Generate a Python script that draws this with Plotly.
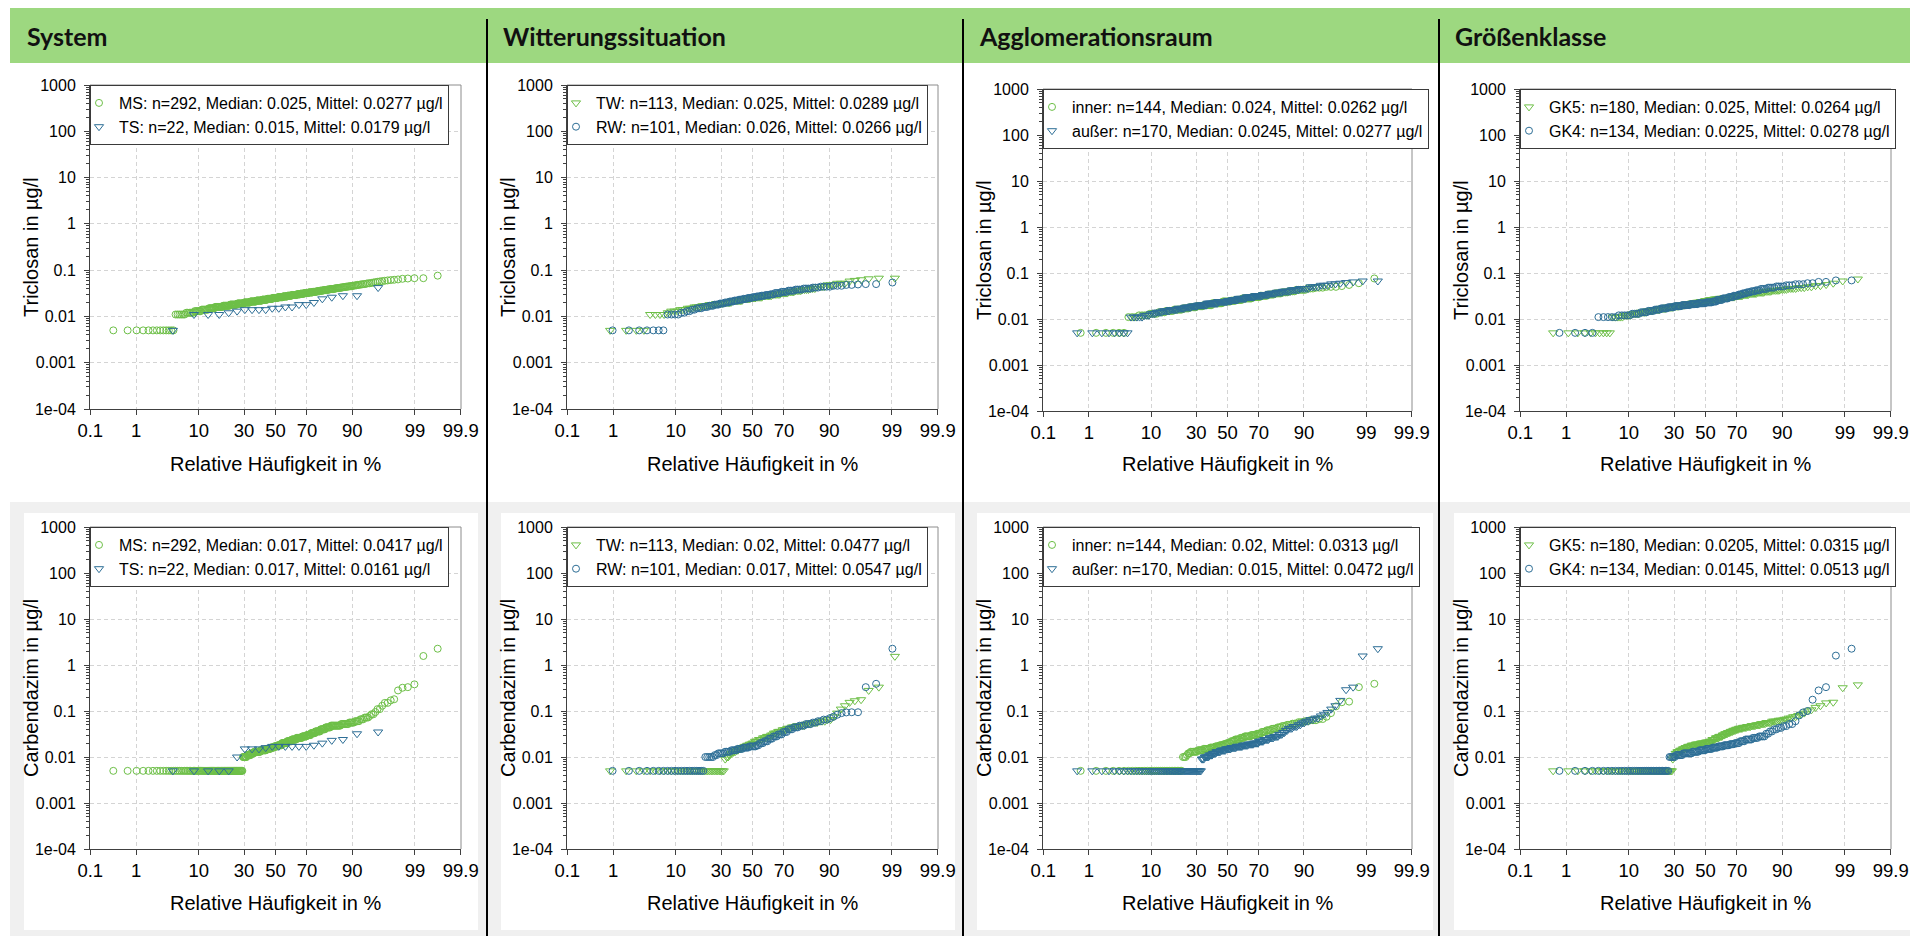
from statistics import NormalDist
import plotly.graph_objects as go

W, H = 1910, 936
GREEN = "#6dbf47"
BLUE = "#2d6e96"
FONT = "Liberation Sans"

# ---------------------------------------------------------------------------
# Measured concentrations (µg/l), sorted, written as value runs with counts
# ---------------------------------------------------------------------------
# Triclosan
TRI_MS_VAL = [0.005, 0.011, 0.012, 0.013, 0.014, 0.015, 0.016, 0.017, 0.018, 0.019, 0.020,
              0.021, 0.022, 0.023, 0.024, 0.025, 0.026, 0.027, 0.028, 0.029, 0.030,
              0.031, 0.032, 0.033, 0.034, 0.035, 0.036, 0.037, 0.038, 0.039, 0.040,
              0.041, 0.042, 0.043, 0.044, 0.045, 0.046, 0.047, 0.048, 0.049, 0.050,
              0.051, 0.052, 0.053, 0.054, 0.055, 0.056, 0.057, 0.058, 0.059,
              0.060, 0.061, 0.062, 0.063, 0.065, 0.066, 0.067, 0.076]
TRI_MS_CNT = [13, 6, 6, 6, 7, 7, 10, 10, 11, 11, 11,
              11, 11, 10, 10, 10, 10, 9, 8, 9, 7,
              7, 7, 7, 6, 5, 5, 5, 4, 5, 3,
              4, 3, 3, 3, 3, 2, 2, 2, 2, 2,
              1, 2, 1, 1, 1, 1, 1, 1, 1,
              1, 1, 1, 1, 1, 1, 2, 1]
TRI_TS_VAL = [0.005, 0.011, 0.012, 0.013, 0.014, 0.015, 0.016, 0.018, 0.020, 0.024, 0.026, 0.028, 0.042]
TRI_TS_CNT = [1, 3, 1, 1, 4, 2, 2, 2, 1, 1, 1, 2, 1]

TRI_TW_VAL = [0.005, 0.011, 0.012, 0.013, 0.014, 0.015, 0.016, 0.017, 0.018, 0.019, 0.020,
              0.022, 0.024, 0.025, 0.026, 0.028, 0.030, 0.032, 0.034, 0.036, 0.038, 0.040,
              0.044, 0.048, 0.052, 0.058, 0.060, 0.062, 0.065, 0.067]
TRI_TW_CNT = [4, 4, 1, 3, 3, 3, 4, 4, 4, 5, 6,
              8, 6, 4, 5, 7, 6, 5, 4, 4, 4, 3,
              4, 3, 3, 1, 1, 1, 1, 2]
TRI_RW_VAL = [0.005, 0.011, 0.012, 0.013, 0.014, 0.015, 0.016, 0.017, 0.018, 0.019, 0.020,
              0.021, 0.022, 0.023, 0.024, 0.025, 0.026, 0.027, 0.028, 0.029, 0.030,
              0.032, 0.034, 0.036, 0.038, 0.040, 0.042, 0.044, 0.046, 0.048, 0.049, 0.050, 0.054]
TRI_RW_CNT = [7, 4, 2, 2, 2, 3, 3, 3, 3, 3, 3,
              3, 3, 3, 3, 3, 3, 3, 3, 3, 3,
              4, 4, 4, 4, 4, 3, 4, 3, 2, 1, 2, 1]

TRI_INNER_VAL = [0.005, 0.011, 0.012, 0.013, 0.014, 0.015, 0.016, 0.017, 0.018, 0.019, 0.020,
                 0.022, 0.024, 0.025, 0.026, 0.028, 0.030, 0.032, 0.034, 0.036, 0.038, 0.040,
                 0.043, 0.046, 0.048, 0.050, 0.052, 0.055, 0.060, 0.076]
TRI_INNER_CNT = [6, 3, 4, 4, 4, 5, 6, 5, 6, 6, 8,
                 10, 8, 5, 6, 9, 7, 6, 5, 5, 4, 4,
                 5, 3, 3, 3, 1, 1, 1, 1]
TRI_AUSSER_VAL = [0.005, 0.011, 0.012, 0.013, 0.014, 0.015, 0.016, 0.017, 0.018, 0.019, 0.020,
                  0.022, 0.024, 0.025, 0.026, 0.028, 0.030, 0.032, 0.034, 0.036, 0.038, 0.040,
                  0.043, 0.046, 0.050, 0.054, 0.058, 0.060, 0.062, 0.064, 0.067]
TRI_AUSSER_CNT = [8, 5, 3, 3, 4, 5, 6, 6, 6, 6, 10,
                  12, 11, 5, 7, 9, 9, 8, 6, 6, 5, 6,
                  5, 5, 4, 3, 2, 1, 1, 1, 2]

TRI_GK5_VAL = [0.005, 0.011, 0.012, 0.013, 0.014, 0.015, 0.016, 0.017, 0.018, 0.019, 0.020,
               0.021, 0.022, 0.023, 0.024, 0.025, 0.026, 0.027, 0.028, 0.029, 0.030,
               0.032, 0.034, 0.036, 0.038, 0.040, 0.042, 0.044, 0.046, 0.048, 0.050,
               0.053, 0.056, 0.060, 0.067, 0.074]
TRI_GK5_CNT = [10, 5, 4, 5, 5, 5, 6, 6, 7, 6, 7,
               7, 6, 5, 5, 5, 6, 6, 6, 6, 6,
               8, 6, 7, 6, 5, 5, 4, 4, 3, 2,
               2, 1, 1, 1, 1]
TRI_GK4_VAL = [0.005, 0.011, 0.012, 0.013, 0.014, 0.015, 0.016, 0.017, 0.018, 0.019, 0.020,
               0.021, 0.022, 0.023, 0.024, 0.026, 0.028, 0.030, 0.032, 0.034, 0.036,
               0.038, 0.040, 0.042, 0.045, 0.048, 0.051, 0.054, 0.057, 0.060, 0.064, 0.069]
TRI_GK4_CNT = [4, 5, 5, 4, 4, 4, 4, 5, 5, 6, 7,
               7, 7, 6, 4, 5, 5, 4, 4, 3, 3,
               3, 3, 3, 4, 4, 4, 3, 3, 2, 2, 2]

# Carbendazim
CAR_MS_VAL = [0.005, 0.010, 0.011, 0.012, 0.013, 0.014, 0.015, 0.016, 0.017, 0.018,
              0.020, 0.022, 0.024, 0.026, 0.028, 0.030, 0.033, 0.036, 0.040, 0.044,
              0.048, 0.052, 0.056, 0.060, 0.066, 0.072, 0.078, 0.085, 0.095, 0.11,
              0.13, 0.15, 0.17, 0.18, 0.28, 0.32, 0.33, 0.38, 1.57, 2.26]
CAR_MS_CNT = [85, 7, 7, 6, 12, 11, 8, 7, 7, 8,
              10, 9, 9, 10, 8, 7, 7, 8, 7, 7,
              12, 8, 5, 4, 3, 3, 1, 2, 1, 2,
              1, 2, 1, 1, 1, 1, 1, 1, 1, 1]
CAR_TS_VAL = [0.005, 0.010, 0.015, 0.016, 0.017, 0.018, 0.020, 0.023, 0.024, 0.032, 0.035]
CAR_TS_CNT = [5, 1, 3, 1, 6, 1, 1, 1, 1, 1, 1]

CAR_TW_VAL = [0.005, 0.009, 0.010, 0.011, 0.012, 0.013, 0.014, 0.015, 0.016, 0.017, 0.018,
              0.019, 0.020, 0.022, 0.024, 0.026, 0.028, 0.030, 0.033, 0.036, 0.039,
              0.042, 0.045, 0.048, 0.052, 0.056, 0.060, 0.065, 0.075, 0.090, 0.11,
              0.13, 0.154, 0.167, 0.176, 0.28, 0.33, 1.54]
CAR_TW_CNT = [36, 1, 2, 1, 2, 2, 2, 2, 2, 2, 2,
              2, 2, 3, 3, 3, 3, 2, 3, 3, 3,
              3, 3, 5, 3, 3, 3, 2, 1, 1, 1,
              1, 1, 1, 1, 1, 1, 1]
CAR_RW_VAL = [0.005, 0.010, 0.011, 0.012, 0.013, 0.014, 0.015, 0.016, 0.017, 0.018,
              0.020, 0.022, 0.025, 0.028, 0.031, 0.035, 0.040, 0.044, 0.048, 0.052,
              0.056, 0.060, 0.065, 0.070, 0.075, 0.083, 0.090, 0.093, 0.094, 0.33,
              0.39, 2.26]
CAR_RW_CNT = [21, 5, 2, 4, 4, 4, 4, 4, 5, 2,
              3, 3, 3, 3, 3, 3, 3, 3, 3, 3,
              2, 2, 2, 1, 1, 1, 1, 1, 2, 1,
              1, 1]

CAR_INNER_VAL = [0.005, 0.010, 0.011, 0.012, 0.013, 0.014, 0.015, 0.016, 0.017, 0.018,
                 0.019, 0.020, 0.022, 0.024, 0.026, 0.028, 0.030, 0.032, 0.035, 0.038,
                 0.041, 0.044, 0.047, 0.050, 0.053, 0.057, 0.060, 0.063, 0.067, 0.075,
                 0.090, 0.126, 0.155, 0.16, 0.33, 0.39]
CAR_INNER_CNT = [32, 3, 1, 2, 6, 5, 6, 5, 4, 4,
                 3, 4, 4, 5, 4, 6, 5, 4, 4, 4,
                 4, 3, 3, 3, 3, 3, 2, 3, 2, 1,
                 1, 1, 1, 1, 1, 1]
CAR_AUSSER_VAL = [0.005, 0.009, 0.010, 0.011, 0.012, 0.013, 0.014, 0.015, 0.016, 0.017,
                  0.018, 0.019, 0.020, 0.022, 0.024, 0.026, 0.028, 0.031, 0.034, 0.038,
                  0.042, 0.046, 0.050, 0.055, 0.060, 0.065, 0.070, 0.078, 0.085, 0.093,
                  0.11, 0.13, 0.17, 0.29, 0.33, 1.57, 2.26]
CAR_AUSSER_CNT = [56, 3, 5, 4, 4, 5, 6, 6, 6, 7,
                  6, 6, 5, 5, 5, 4, 4, 3, 2, 2,
                  3, 3, 2, 2, 2, 2, 2, 1, 1, 1,
                  1, 1, 1, 1, 1, 1, 1]

CAR_GK5_VAL = [0.005, 0.009, 0.010, 0.012, 0.013, 0.014, 0.015, 0.016, 0.017, 0.018,
               0.019, 0.020, 0.021, 0.022, 0.024, 0.026, 0.028, 0.030, 0.032, 0.034,
               0.036, 0.038, 0.040, 0.042, 0.044, 0.046, 0.048, 0.050, 0.053, 0.056,
               0.060, 0.063, 0.066, 0.070, 0.075, 0.080, 0.085, 0.090, 0.100, 0.106,
               0.12, 0.13, 0.15, 0.155, 0.32, 0.37]
CAR_GK5_CNT = [52, 1, 2, 2, 3, 3, 3, 3, 4, 5,
               6, 6, 5, 3, 4, 4, 4, 3, 3, 3,
               3, 3, 3, 4, 4, 4, 4, 4, 4, 4,
               4, 3, 2, 2, 2, 1, 1, 1, 1, 1,
               1, 1, 1, 1, 1, 1]
CAR_GK4_VAL = [0.005, 0.010, 0.011, 0.012, 0.013, 0.014, 0.015, 0.016, 0.017, 0.018,
               0.019, 0.020, 0.022, 0.024, 0.026, 0.028, 0.032, 0.036, 0.040, 0.043,
               0.047, 0.052, 0.060, 0.080, 0.093, 0.10, 0.176, 0.28, 0.33, 1.6, 2.26]
CAR_GK4_CNT = [36, 5, 6, 8, 6, 6, 6, 5, 5, 5,
               4, 4, 4, 5, 4, 4, 2, 2, 2, 2,
               2, 2, 1, 1, 1, 1, 1, 1, 1, 1, 1]

# Column headers, axis texts and ticks
HEADERS = ["System", "Witterungssituation", "Agglomerationsraum", "Größenklasse"]
SUBSTANCES = ["Triclosan in µg/l", "Carbendazim in µg/l"]
X_TITLE = "Relative Häufigkeit in %"
X_TICK_PCT = [0.1, 1, 10, 30, 50, 70, 90, 99, 99.9]
X_TICK_TEXT = ["0.1", "1", "10", "30", "50", "70", "90", "99", "99.9"]
Y_TICK_VALS = [1e-4, 1e-3, 1e-2, 1e-1, 1, 10, 100, 1000]
Y_TICK_TEXT = ["1e-04", "0.001", "0.01", "0.1", "1", "10", "100", "1000"]

CIRCLE = ("circle-open", 7)
TRIANGLE = ("triangle-down-open", 8)

# (row, col, [(label, values, counts, marker, colour), ...])
PANELS = [
    (0, 0, [("MS: n=292, Median: 0.025, Mittel: 0.0277 µg/l", TRI_MS_VAL, TRI_MS_CNT, CIRCLE, GREEN),
            ("TS: n=22, Median: 0.015, Mittel: 0.0179 µg/l", TRI_TS_VAL, TRI_TS_CNT, TRIANGLE, BLUE)]),
    (0, 1, [("TW: n=113, Median: 0.025, Mittel: 0.0289 µg/l", TRI_TW_VAL, TRI_TW_CNT, TRIANGLE, GREEN),
            ("RW: n=101, Median: 0.026, Mittel: 0.0266 µg/l", TRI_RW_VAL, TRI_RW_CNT, CIRCLE, BLUE)]),
    (0, 2, [("inner: n=144, Median: 0.024, Mittel: 0.0262 µg/l", TRI_INNER_VAL, TRI_INNER_CNT, CIRCLE, GREEN),
            ("außer: n=170, Median: 0.0245, Mittel: 0.0277 µg/l", TRI_AUSSER_VAL, TRI_AUSSER_CNT, TRIANGLE, BLUE)]),
    (0, 3, [("GK5: n=180, Median: 0.025, Mittel: 0.0264 µg/l", TRI_GK5_VAL, TRI_GK5_CNT, TRIANGLE, GREEN),
            ("GK4: n=134, Median: 0.0225, Mittel: 0.0278 µg/l", TRI_GK4_VAL, TRI_GK4_CNT, CIRCLE, BLUE)]),
    (1, 0, [("MS: n=292, Median: 0.017, Mittel: 0.0417 µg/l", CAR_MS_VAL, CAR_MS_CNT, CIRCLE, GREEN),
            ("TS: n=22, Median: 0.017, Mittel: 0.0161 µg/l", CAR_TS_VAL, CAR_TS_CNT, TRIANGLE, BLUE)]),
    (1, 1, [("TW: n=113, Median: 0.02, Mittel: 0.0477 µg/l", CAR_TW_VAL, CAR_TW_CNT, TRIANGLE, GREEN),
            ("RW: n=101, Median: 0.017, Mittel: 0.0547 µg/l", CAR_RW_VAL, CAR_RW_CNT, CIRCLE, BLUE)]),
    (1, 2, [("inner: n=144, Median: 0.02, Mittel: 0.0313 µg/l", CAR_INNER_VAL, CAR_INNER_CNT, CIRCLE, GREEN),
            ("außer: n=170, Median: 0.015, Mittel: 0.0472 µg/l", CAR_AUSSER_VAL, CAR_AUSSER_CNT, TRIANGLE, BLUE)]),
    (1, 3, [("GK5: n=180, Median: 0.0205, Mittel: 0.0315 µg/l", CAR_GK5_VAL, CAR_GK5_CNT, TRIANGLE, GREEN),
            ("GK4: n=134, Median: 0.0145, Mittel: 0.0513 µg/l", CAR_GK4_VAL, CAR_GK4_CNT, CIRCLE, BLUE)]),
]

# ---------------------------------------------------------------------------
# Page geometry (pixels)
# ---------------------------------------------------------------------------
COL_X = [(90, 461), (567, 938), (1043, 1412), (1520, 1891)]
ROW_Y = [[(85, 409), (85, 409), (89, 411), (89, 411)],
         [(527, 849), (527, 849), (527, 849), (527, 849)]]
X_TITLE_Y = [464, 903]
SEPARATORS = [487, 963, 1439]
HEADER_X = [25, 501, 977, 1453]
LOWER_PANELS = [(24, 478), (501, 955), (977, 1433), (1454, 1910)]


def fx(px):
    return px / W


def fy(py):
    return 1 - py / H


ND = NormalDist()


def expand(vals, cnts):
    out = []
    for v, c in zip(vals, cnts):
        out.extend([v] * c)
    return out


def plotting_positions(n):
    # Weibull plotting positions i/(n+1) on the normal-probability scale
    return [ND.inv_cdf(i / (n + 1)) for i in range(1, n + 1)]


x_tickvals = [ND.inv_cdf(p / 100) for p in X_TICK_PCT]
x_range = [x_tickvals[0] - 0.004, x_tickvals[-1] + 0.004]
y_minor = [m * 10 ** e for e in range(-4, 3) for m in range(2, 10)]

fig = go.Figure()
layout = dict(
    template="none",
    width=W, height=H, margin=dict(l=0, r=0, t=0, b=0, autoexpand=False),
    paper_bgcolor="white", plot_bgcolor="white",
    font=dict(family=FONT, color="black"),
    hovermode="closest",
    shapes=[], annotations=[],
)

AX_COL = "#404040"
GRID_COL = "#d4d4d4"

for k, (row, col, series) in enumerate(PANELS, start=1):
    sfx = "" if k == 1 else str(k)
    x0, x1 = COL_X[col]
    y0, y1 = ROW_Y[row][col]
    legend_name = "legend" + sfx

    for label, vals, cnts, (symbol, size), colour in series:
        data = sorted(expand(vals, cnts))
        fig.add_trace(go.Scatter(
            x=plotting_positions(len(data)), y=data, mode="markers", name=label,
            marker=dict(symbol=symbol, size=size, color=colour, line=dict(width=1, color=colour)),
            xaxis="x" + sfx, yaxis="y" + sfx, legend=legend_name,
            hovertemplate="%{y}<extra></extra>",
        ))

    layout["xaxis" + sfx] = dict(
        domain=[fx(x0), fx(x1)], anchor="y" + sfx, range=x_range, automargin=False,
        tickmode="array", tickvals=x_tickvals, ticktext=X_TICK_TEXT,
        showgrid=True, gridcolor=GRID_COL, griddash="4px,3px", gridwidth=1,
        zeroline=False, showline=True, linecolor=AX_COL, linewidth=1,
        ticks="outside", ticklen=5, tickcolor=AX_COL, tickwidth=1,
        tickfont=dict(family=FONT, size=18.5, color="black"),
    )
    layout["yaxis" + sfx] = dict(
        domain=[fy(y1), fy(y0)], anchor="x" + sfx, type="log", range=[-4, 3], automargin=False,
        tickmode="array", tickvals=Y_TICK_VALS, ticktext=Y_TICK_TEXT,
        showgrid=True, gridcolor=GRID_COL, griddash="4px,3px", gridwidth=1,
        zeroline=False, showline=True, linecolor=AX_COL, linewidth=1,
        ticks="outside", ticklen=5, tickcolor=AX_COL, tickwidth=1, ticklabelstandoff=5,
        minor=dict(tickmode="array", tickvals=y_minor, ticks="outside", ticklen=3,
                   tickcolor=AX_COL, tickwidth=1, showgrid=False),
        tickfont=dict(family=FONT, size=16, color="black"),
    )
    layout[legend_name] = dict(
        x=fx(x0), y=fy(y0), xanchor="left", yanchor="top",
        bgcolor="white", bordercolor="#3a3a3a", borderwidth=1,
        font=dict(family=FONT, size=16, color="black"),
        indentation=-12, tracegroupgap=0,
    )

    # top and right frame lines
    for sx0, sy0, sx1, sy1 in [(0, 1, 1, 1), (1, 0, 1, 1)]:
        layout["shapes"].append(dict(
            type="line", xref="x" + sfx + " domain", yref="y" + sfx + " domain",
            x0=sx0, y0=sy0, x1=sx1, y1=sy1, line=dict(color="#8c8c8c", width=1), layer="above"))

    # axis titles
    layout["annotations"].append(dict(
        text=X_TITLE, xref="paper", yref="paper", x=fx((x0 + x1) / 2), y=fy(X_TITLE_Y[row]),
        xanchor="center", yanchor="middle", showarrow=False,
        font=dict(family=FONT, size=20, color="black")))
    layout["annotations"].append(dict(
        text=SUBSTANCES[row], xref="paper", yref="paper", x=fx(x0 - 59), y=fy((y0 + y1) / 2),
        xanchor="center", yanchor="middle", textangle=-90, showarrow=False,
        font=dict(family=FONT, size=20, color="black")))

# header band and lower grey band with white panels
layout["shapes"].insert(0, dict(type="rect", xref="paper", yref="paper",
                                x0=fx(10), x1=fx(1910), y0=fy(63), y1=fy(8),
                                fillcolor="#9dd880", line=dict(width=0), layer="below"))
layout["shapes"].insert(1, dict(type="rect", xref="paper", yref="paper",
                                x0=fx(10), x1=fx(1910), y0=fy(936), y1=fy(502),
                                fillcolor="#f0f0f0", line=dict(width=0), layer="below"))
for i, (a, b) in enumerate(LOWER_PANELS):
    layout["shapes"].insert(2 + i, dict(type="rect", xref="paper", yref="paper",
                                        x0=fx(a), x1=fx(b), y0=fy(930), y1=fy(513),
                                        fillcolor="white", line=dict(width=0), layer="below"))
for sx in SEPARATORS:
    layout["shapes"].append(dict(type="line", xref="paper", yref="paper",
                                 x0=fx(sx), x1=fx(sx), y0=fy(936), y1=fy(19),
                                 line=dict(color="black", width=2), layer="above"))

for hx, text in zip(HEADER_X, HEADERS):
    layout["annotations"].append(dict(
        text=text, xref="paper", yref="paper", x=fx(hx), y=fy(36),
        xanchor="left", yanchor="middle", showarrow=False,
        font=dict(family="Lato", size=25, color="#111111", weight="bold")))

fig.update_layout(**layout)
fig.write_html("out.html")
